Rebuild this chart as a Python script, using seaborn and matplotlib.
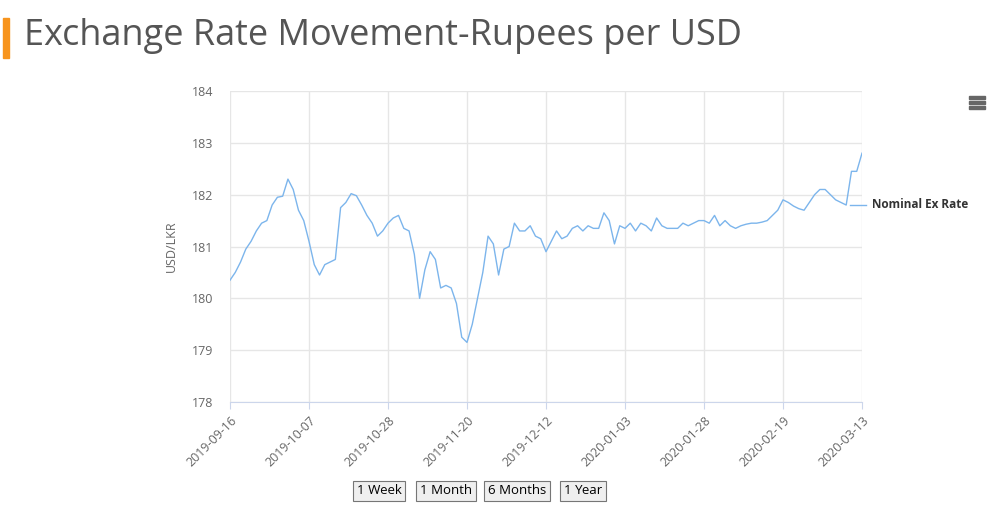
import matplotlib
matplotlib.use("Agg")
import matplotlib.pyplot as plt
import seaborn as sns
import pandas as pd

tick_labels = ["2019-09-16", "2019-10-07", "2019-10-28", "2019-11-20", "2019-12-12",
               "2020-01-03", "2020-01-28", "2020-02-19", "2020-03-13"]
rates = [
    180.35, 180.5, 180.7, 180.95, 181.1, 181.3, 181.45, 181.5, 181.8, 181.95, 181.97, 182.3, 182.1, 181.7, 181.5,
    181.1, 180.65, 180.45, 180.65, 180.7, 180.75, 181.75, 181.85, 182.02, 181.98, 181.8, 181.6, 181.45, 181.2, 181.3,
    181.45, 181.55, 181.6, 181.35, 181.3, 180.85, 180.0, 180.55, 180.9, 180.75, 180.2, 180.25, 180.2, 179.9, 179.25,
    179.15, 179.5, 180.0, 180.5, 181.2, 181.05, 180.45, 180.95, 181.0, 181.45, 181.3, 181.3, 181.4, 181.2, 181.15,
    180.9, 181.1, 181.3, 181.15, 181.2, 181.35, 181.4, 181.3, 181.4, 181.35, 181.35, 181.65, 181.5, 181.05, 181.4,
    181.35, 181.45, 181.3, 181.45, 181.4, 181.3, 181.55, 181.4, 181.35, 181.35, 181.35, 181.45, 181.4, 181.45, 181.5,
    181.5, 181.45, 181.6, 181.4, 181.5, 181.4, 181.35, 181.4, 181.43, 181.45, 181.45, 181.47, 181.5, 181.6, 181.7,
    181.9, 181.85, 181.78, 181.73, 181.7, 181.85, 182.0, 182.1, 182.1, 182.0, 181.9, 181.85, 181.8, 182.45, 182.45,
    182.8,
]
step = 15

df = pd.DataFrame({"idx": range(len(rates)), "rate": rates})

plt.rcParams["font.family"] = "Open Sans"
fig = plt.figure(figsize=(9.94, 5.18), dpi=100)
ax = fig.add_axes([230 / 994, 1 - 402 / 518, 632 / 994, 311 / 518])

sns.lineplot(data=df, x="idx", y="rate", ax=ax, color="#7cb5ec", linewidth=1)

ax.set_xlim(0, len(rates) - 1)
ax.set_ylim(178, 184)
ax.set_yticks(range(178, 185))
ax.set_xticks(range(0, len(rates), step))
ax.set_xticklabels(tick_labels, rotation=45, ha="right", rotation_mode="anchor")
ax.tick_params(axis="x", labelsize=9, colors="#666666", length=5, color="#ccd6eb")
ax.tick_params(axis="y", labelsize=9, colors="#666666", length=0, pad=12)
ax.grid(True, color="#e6e6e6", linewidth=1)
for s in ["top", "right", "left"]:
    ax.spines[s].set_visible(False)
ax.spines["bottom"].set_color("#ccd6eb")
ax.set_xlabel("")
ax.set_ylabel("USD/LKR", fontsize=9, color="#666666", labelpad=10)

# legend to the right
fig.lines.append(plt.Line2D([850 / 994, 866 / 994], [1 - 205 / 518] * 2, color="#7cb5ec",
                            linewidth=1, transform=fig.transFigure))
fig.text(872 / 994, 1 - 205 / 518, "Nominal Ex Rate", fontsize=8.5, fontweight="bold",
         color="#333333", va="center")

# title with orange bar
fig.patches.append(plt.Rectangle((3 / 994, 1 - 58 / 518), 6 / 994, 40 / 518, color="#f7941d",
                                 transform=fig.transFigure))
fig.text(24 / 994, 1 - 36 / 518, "Exchange Rate Movement-Rupees per USD", fontsize=26,
         color="#555555", va="center")

# menu icon
for y in [97, 102, 107]:
    fig.patches.append(plt.Rectangle((969 / 994, 1 - (y + 1.5) / 518), 16 / 994, 3 / 518,
                                     color="#666666", transform=fig.transFigure))

# range buttons
for label, x in [("1 Week", 379), ("1 Month", 446), ("6 Months", 517), ("1 Year", 583)]:
    fig.text(x / 994, 1 - 491 / 518, label, fontsize=9.5, color="#000000", ha="center", va="center",
             bbox=dict(boxstyle="square,pad=0.3", fc="#efefef", ec="#767676", lw=0.8))

fig.savefig("out.png", dpi=100)
